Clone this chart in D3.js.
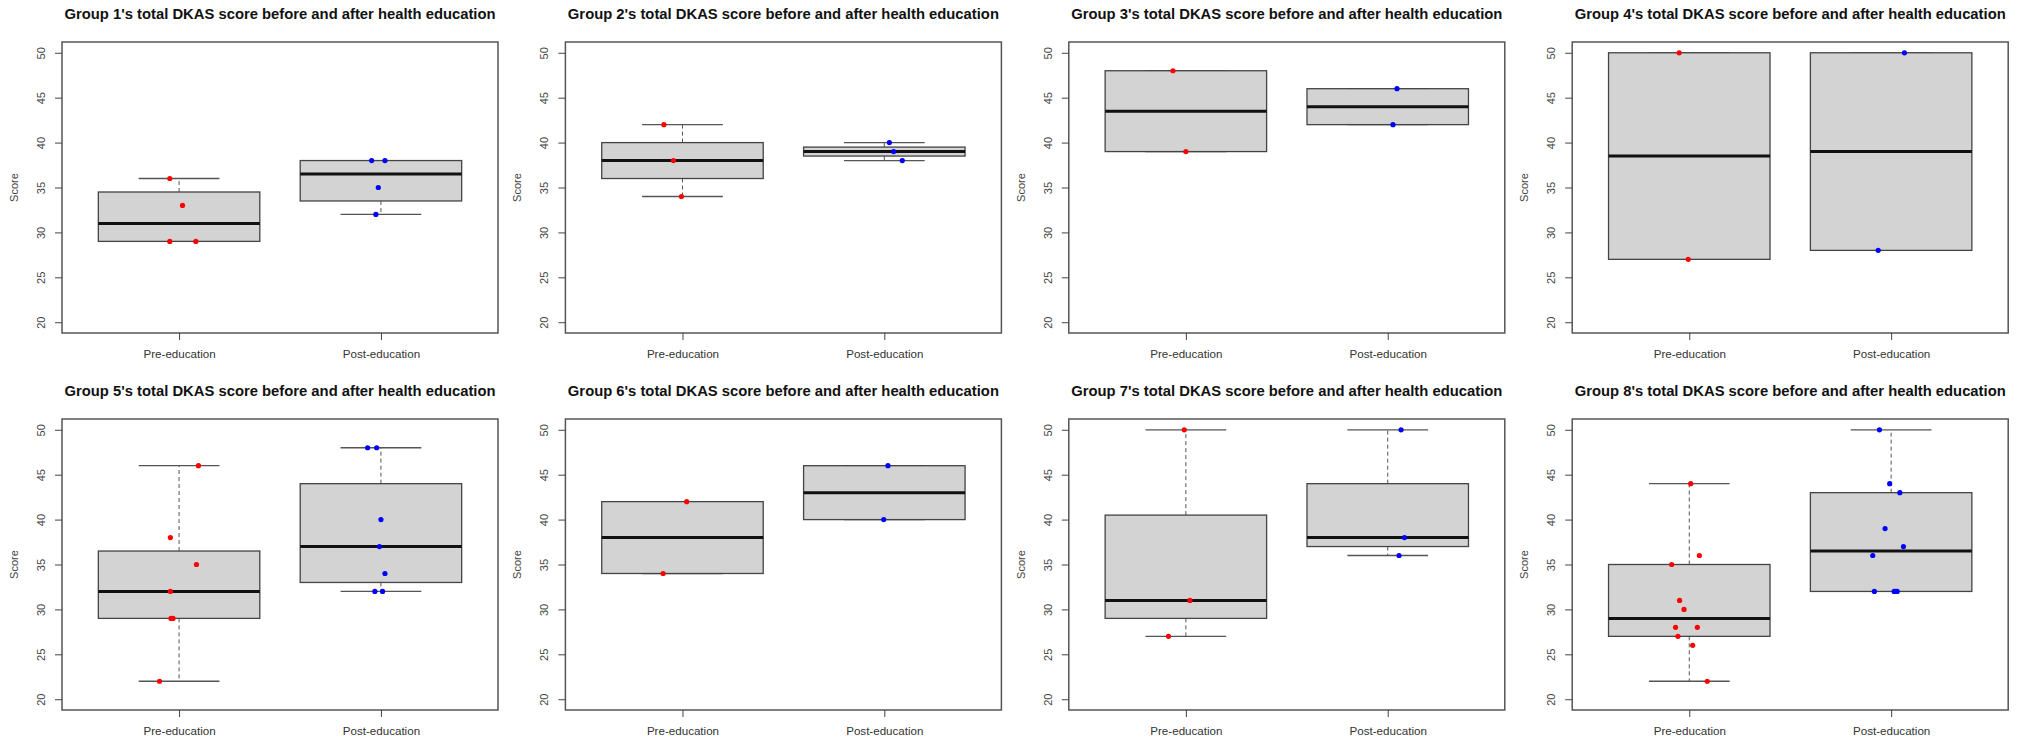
<!DOCTYPE html>
<html lang="en">
<head>
  <meta charset="UTF-8">
  <title>DKAS score before and after health education</title>
  <script src="https://d3js.org/d3.v7.min.js"></script>
  <style>
    body { margin: 0; background: #fff; }
    text { font-family: "Liberation Sans", Arial, sans-serif; }
  </style>
</head>
<body>
  <script>
    // Data
    const groups = ["Group 1", "Group 2", "Group 3", "Group 4", "Group 5", "Group 6", "Group 7", "Group 8"];
    const categories = ["Pre-education", "Post-education"];
    const yTicks = [20, 25, 30, 35, 40, 45, 50];

    const preScores = [
      [36, 33, 29, 29],
      [42, 38, 34],
      [48, 39],
      [50, 27],
      [46, 38, 35, 32, 29, 29, 22],
      [42, 34],
      [50, 31, 27],
      [44, 36, 35, 31, 30, 28, 28, 27, 26, 22]
    ];
    const postScores = [
      [38, 38, 35, 32],
      [40, 39, 38],
      [46, 42],
      [50, 28],
      [48, 48, 40, 37, 34, 32, 32],
      [46, 40],
      [50, 38, 36],
      [50, 44, 43, 39, 37, 36, 32, 32, 32, 32]
    ];
    // horizontal jitter of each point (in category units), as seen in the picture
    const preJitter = [
      [-0.046, 0.017, -0.046, 0.083],
      [-0.092, -0.045, -0.005],
      [-0.064, 0.0],
      [-0.05, -0.005],
      [0.096, -0.043, 0.086, -0.043, -0.04, -0.03, -0.097],
      [0.021, -0.096],
      [-0.008, 0.02, -0.086],
      [0.007, 0.05, -0.087, -0.048, -0.026, -0.068, 0.04, -0.056, 0.017, 0.089]
    ];
    const postJitter = [
      [-0.046, 0.02, -0.013, -0.025],
      [0.025, 0.046, 0.089],
      [0.046, 0.026],
      [0.066, -0.064],
      [-0.066, -0.021, 0.0, -0.007, 0.02, -0.03, 0.008],
      [0.018, -0.003],
      [0.066, 0.083, 0.056],
      [-0.058, -0.007, 0.043, -0.03, 0.061, -0.091, -0.083, 0.015, 0.022, 0.03]
    ];

    const width = 2021, height = 743;
    const plotW = 436, plotH = 291;
    const colStep = 503.4, rowStep = 377;
    const left0 = 62, top0 = 42;

    const svg = d3.select("body").append("svg")
      .attr("width", width)
      .attr("height", height);

    // R-style five number summary (Tukey hinges)
    function fivenum(arr) {
      const x = arr.slice().sort((a, b) => a - b);
      const n = x.length;
      const n4 = Math.floor((n + 3) / 2) / 2;
      const d = [1, n4, (n + 1) / 2, n + 1 - n4, n];
      return d.map(v => 0.5 * (x[Math.floor(v) - 1] + x[Math.ceil(v) - 1]));
    }

    function boxStats(arr) {
      const f = fivenum(arr);
      const iqr = f[3] - f[1];
      const inside = arr.filter(v => v >= f[1] - 1.5 * iqr && v <= f[3] + 1.5 * iqr);
      return { q1: f[1], med: f[2], q3: f[3], lo: d3.min(inside), hi: d3.max(inside) };
    }

    groups.forEach((g, i) => {
      const col = i % 4, row = Math.floor(i / 4);
      const left = left0 + col * colStep;
      const top = top0 + row * rowStep;

      const x = d3.scaleLinear().domain([0.42, 2.58]).range([left, left + plotW]);
      const y = d3.scaleLinear().domain([18.8, 51.2]).range([top + plotH, top]);

      const panel = svg.append("g");

      // title
      panel.append("text")
        .attr("x", left + plotW / 2)
        .attr("y", top - 23.5)
        .attr("text-anchor", "middle")
        .attr("font-size", "14.8px")
        .attr("font-weight", "bold")
        .attr("fill", "#111")
        .text(`${g}'s total DKAS score before and after health education`);

      // boxes
      const series = [
        { pos: 1, vals: preScores[i], jit: preJitter[i], color: "#ff0000" },
        { pos: 2, vals: postScores[i], jit: postJitter[i], color: "#0000ff" }
      ];
      const boxW = 0.8, capW = 0.4;

      series.forEach(s => {
        const st = boxStats(s.vals);
        const cx = x(s.pos);

        if (st.hi > st.q3) {
          panel.append("line")
            .attr("x1", cx).attr("x2", cx)
            .attr("y1", y(st.q3)).attr("y2", y(st.hi))
            .attr("stroke", "#555").attr("stroke-dasharray", "4,3");
        }
        if (st.lo < st.q1) {
          panel.append("line")
            .attr("x1", cx).attr("x2", cx)
            .attr("y1", y(st.q1)).attr("y2", y(st.lo))
            .attr("stroke", "#555").attr("stroke-dasharray", "4,3");
        }
        [st.lo, st.hi].forEach(v => {
          panel.append("line")
            .attr("x1", x(s.pos - capW / 2)).attr("x2", x(s.pos + capW / 2))
            .attr("y1", y(v)).attr("y2", y(v))
            .attr("stroke", "#555").attr("stroke-width", 1.3);
        });

        panel.append("rect")
          .attr("x", x(s.pos - boxW / 2))
          .attr("y", y(st.q3))
          .attr("width", x(s.pos + boxW / 2) - x(s.pos - boxW / 2))
          .attr("height", y(st.q1) - y(st.q3))
          .attr("fill", "#d3d3d3")
          .attr("stroke", "#444")
          .attr("stroke-width", 1.3);

        panel.append("line")
          .attr("x1", x(s.pos - boxW / 2)).attr("x2", x(s.pos + boxW / 2))
          .attr("y1", y(st.med)).attr("y2", y(st.med))
          .attr("stroke", "#111").attr("stroke-width", 3);

        panel.selectAll(null)
          .data(s.vals)
          .enter()
          .append("circle")
          .attr("cx", (d, k) => x(s.pos + s.jit[k]))
          .attr("cy", d => y(d))
          .attr("r", 2.6)
          .attr("fill", s.color);
      });

      // frame
      panel.append("rect")
        .attr("x", left).attr("y", top)
        .attr("width", plotW).attr("height", plotH)
        .attr("fill", "none")
        .attr("stroke", "#555")
        .attr("stroke-width", 1.5);

      // y axis
      const yAxis = panel.append("g")
        .attr("transform", `translate(${left},0)`)
        .call(d3.axisLeft(y).tickValues(yTicks).tickSize(7).tickPadding(0));
      yAxis.select(".domain").remove();
      yAxis.selectAll(".tick line").attr("stroke", "#444");
      yAxis.selectAll(".tick text")
        .attr("transform", "rotate(-90)")
        .attr("x", 0).attr("y", -17).attr("dy", 0)
        .attr("text-anchor", "middle")
        .attr("font-size", "11px")
        .attr("fill", "#444");

      // x axis
      const xAxis = panel.append("g")
        .attr("transform", `translate(0,${top + plotH})`)
        .call(d3.axisBottom(x).tickValues([1, 2]).tickFormat(d => categories[d - 1]).tickSize(7));
      xAxis.select(".domain").remove();
      xAxis.selectAll(".tick line").attr("stroke", "#444");
      xAxis.selectAll(".tick text")
        .attr("y", 25).attr("dy", 0)
        .attr("font-size", "11.6px")
        .attr("fill", "#333");

      // y label
      panel.append("text")
        .attr("transform", `translate(${left - 44},${top + plotH / 2}) rotate(-90)`)
        .attr("text-anchor", "middle")
        .attr("font-size", "11px")
        .attr("fill", "#444")
        .text("Score");
    });
  </script>
</body>
</html>
